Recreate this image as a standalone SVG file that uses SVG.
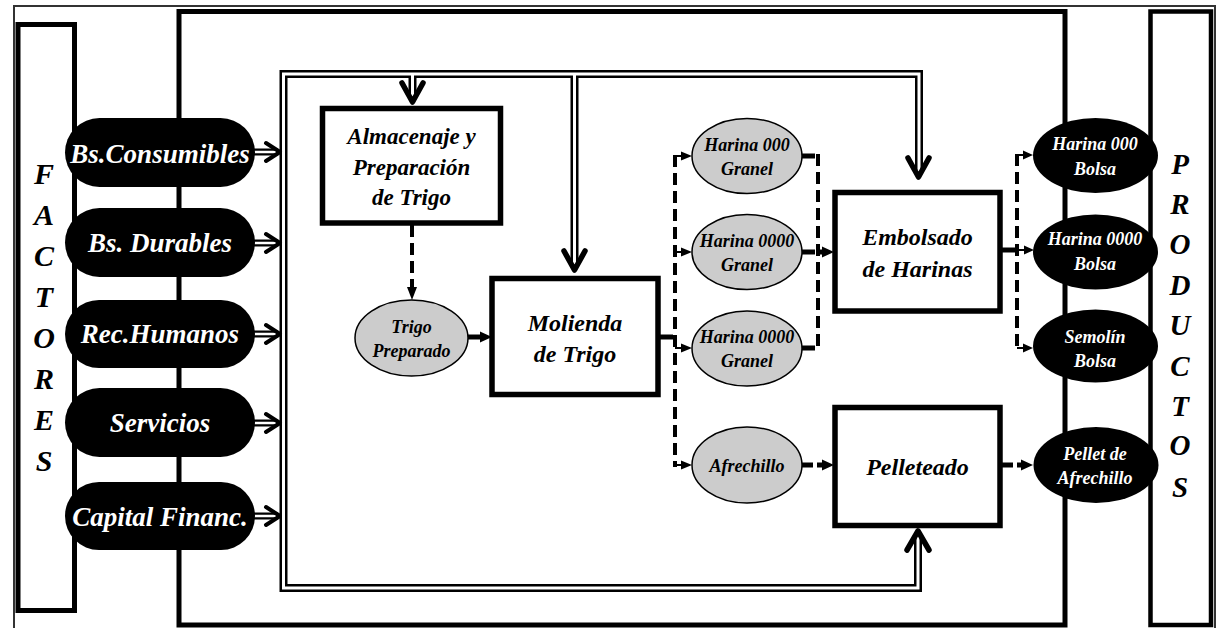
<svg xmlns="http://www.w3.org/2000/svg" width="1221" height="628" viewBox="0 0 1221 628">
<defs>
<style>
.t{font-family:"Liberation Serif","Times New Roman",serif;font-weight:bold;font-style:italic;text-anchor:middle}
.cap{fill:#000}
.capt{fill:#fff;font-size:27px}
.box{fill:#fff;stroke:#000;stroke-width:5.5}
.boxt{font-size:24px;fill:#000}
.gell{fill:#cccccc;stroke:#000;stroke-width:1.5}
.gt{font-size:18px;fill:#000}
.bell{fill:#000}
.bt{font-size:18px;fill:#fff}
.big{font-size:30px;fill:#000}
.dblo{fill:none;stroke:#000;stroke-width:8}
.dbli{fill:none;stroke:#fff;stroke-width:3}
.shafto{fill:none;stroke:#000;stroke-width:7}
.shafti{fill:none;stroke:#fff;stroke-width:2.5}
.chev{fill:none;stroke:#000;stroke-width:4;stroke-linecap:round;stroke-linejoin:round}
.chevb{fill:none;stroke:#000;stroke-width:5.5;stroke-linecap:round;stroke-linejoin:round}
.dash{fill:none;stroke:#000;stroke-width:4;stroke-dasharray:12 6}
.solid{fill:none;stroke:#000;stroke-width:5}
.thin{fill:none;stroke:#000;stroke-width:2}
.tri{fill:#000}
</style>
</defs>
<rect width="1221" height="628" fill="#fff"/>

<g id="frames">
<rect x="14" y="6" width="1201" height="640" fill="none" stroke="#333" stroke-width="2"/>
<rect x="18" y="24.5" width="56.5" height="586" fill="none" stroke="#000" stroke-width="5"/>
<rect x="179" y="11.5" width="886" height="613.5" fill="none" stroke="#000" stroke-width="5"/>
<rect x="1150.5" y="11.5" width="60.5" height="613.5" fill="none" stroke="#000" stroke-width="4.5"/>
</g>

<g id="label-factores" class="t big">
<text x="44" y="184">F</text>
<text x="44" y="225">A</text>
<text x="44" y="266">C</text>
<text x="44" y="307">T</text>
<text x="44" y="348">O</text>
<text x="44" y="389">R</text>
<text x="44" y="430">E</text>
<text x="44" y="471">S</text>
</g>

<g id="label-productos" class="t big" style="font-size:29px">
<text x="1180" y="174">P</text>
<text x="1180" y="214">R</text>
<text x="1180" y="254">O</text>
<text x="1180" y="295">D</text>
<text x="1180" y="335">U</text>
<text x="1180" y="376">C</text>
<text x="1180" y="416">T</text>
<text x="1180" y="455">O</text>
<text x="1180" y="497">S</text>
</g>

<g id="connectors">
<!-- double-line supply frame -->
<path class="dblo" d="M919,170 V74 H283.5 V588 H918 V537"/>
<path class="dblo" d="M412.5,74 V96"/>
<path class="dblo" d="M574.5,74 V262"/>
<path class="dbli" d="M919,170 V74 H283.5 V588 H918 V537"/>
<path class="dbli" d="M412.5,74 V96"/>
<path class="dbli" d="M574.5,74 V262"/>
<path class="chevb" d="M402,83 L412.5,102 L423,83"/>
<path class="chevb" d="M564,251 L574.5,270 L585,251"/>
<path class="chevb" d="M908,158 L918.5,177 L929,158"/>
<path class="chevb" d="M907,550 L918,531 L929,550"/>

<!-- factor arrows -->
<path class="shafto" d="M250,152 H278 M250,243 H278 M250,334 H278 M250,423 H278 M250,516 H278"/>
<path class="shafti" d="M250,152 H276 M250,243 H276 M250,334 H276 M250,423 H276 M250,516 H276"/>
<path class="chev" d="M266,143 L280,152 L266,161 M266,234 L280,243 L266,252 M266,325 L280,334 L266,343 M266,414 L280,423 L266,432 M266,507 L280,516 L266,525"/>

<!-- Almacenaje -> Trigo Preparado -->
<path class="dash" d="M412,225 V288"/>
<polygon class="tri" points="407,287 417,287 412,300"/>
<!-- Trigo Preparado -> Molienda -->
<path class="solid" d="M467,337 H481"/>
<polygon class="tri" points="480,331.5 480,342.5 492,337"/>
<!-- Molienda -> granel -->
<path class="solid" d="M658,337 H673"/>
<path class="dash" d="M675,155 V467"/>
<path class="thin" d="M675,156 H683 M675,252 H683 M675,348 H683 M675,465 H683"/>
<polygon class="tri" points="681,151.5 681,160.5 692,156"/>
<polygon class="tri" points="681,247.5 681,256.5 692,252"/>
<polygon class="tri" points="681,343.5 681,352.5 692,348"/>
<polygon class="tri" points="681,460.5 681,469.5 692,465"/>
<!-- granel -> Embolsado -->
<path class="solid" d="M801,156 H815 M801,252 H815 M801,348 H815"/>
<path class="dash" d="M818,154 V350"/>
<path class="solid" d="M820,252 H824"/>
<polygon class="tri" points="822,246.5 822,257.5 834,252"/>
<!-- Afrechillo -> Pelleteado -->
<path class="solid" d="M802,465 H823" style="stroke-dasharray:11 4"/>
<polygon class="tri" points="822,459.5 822,470.5 834,465"/>
<!-- Embolsado -> bolsas -->
<path class="solid" d="M1000,250 H1015"/>
<path class="dash" d="M1017,154 V350"/>
<path class="thin" d="M1017,155 H1025 M1017,250 H1026 M1017,348 H1025"/>
<polygon class="tri" points="1023,150.5 1023,159.5 1033,155"/>
<polygon class="tri" points="1024,245.5 1024,254.5 1034,250"/>
<polygon class="tri" points="1023,343.5 1023,352.5 1033,348"/>
<!-- Pelleteado -> Pellet -->
<path class="solid" d="M1000,465 H1022" style="stroke-dasharray:13 4"/>
<polygon class="tri" points="1021,459.5 1021,470.5 1033,465"/>
</g>

<g id="n-consumibles"><rect class="cap" x="65" y="118" width="190" height="69" rx="34.5"/><text class="t capt" x="160" y="163">Bs.Consumibles</text></g>
<g id="n-durables"><rect class="cap" x="65" y="208" width="190" height="69" rx="34.5"/><text class="t capt" x="160" y="252">Bs. Durables</text></g>
<g id="n-humanos"><rect class="cap" x="65" y="300" width="190" height="68" rx="34"/><text class="t capt" x="160" y="343">Rec.Humanos</text></g>
<g id="n-servicios"><rect class="cap" x="65" y="388" width="190" height="69" rx="34.5"/><text class="t capt" x="160" y="432">Servicios</text></g>
<g id="n-capital"><rect class="cap" x="65" y="482" width="190" height="68" rx="34"/><text class="t capt" x="160" y="526">Capital Financ.</text></g>

<g id="n-almacenaje"><rect class="box" x="322.5" y="108.5" width="178" height="114.5"/>
<text class="t boxt" style="font-size:23px" x="411.5" y="144">Almacenaje y</text>
<text class="t boxt" style="font-size:23px" x="411.5" y="175">Preparación</text>
<text class="t boxt" style="font-size:23px" x="411.5" y="205">de Trigo</text></g>

<g id="n-trigo"><ellipse class="gell" cx="411.5" cy="338" rx="56.5" ry="38"/>
<text class="t gt" x="411.5" y="333">Trigo</text><text class="t gt" x="411.5" y="357">Preparado</text></g>

<g id="n-molienda"><rect class="box" x="492" y="278.5" width="166" height="116"/>
<text class="t boxt" x="575" y="331">Molienda</text><text class="t boxt" x="575" y="362">de Trigo</text></g>

<g id="n-h000g"><ellipse class="gell" cx="747" cy="156" rx="55" ry="37.5"/>
<text class="t gt" x="747" y="151">Harina 000</text><text class="t gt" x="747" y="175">Granel</text></g>
<g id="n-h0000g1"><ellipse class="gell" cx="747" cy="252" rx="55" ry="37.5"/>
<text class="t gt" x="747" y="247">Harina 0000</text><text class="t gt" x="747" y="271">Granel</text></g>
<g id="n-h0000g2"><ellipse class="gell" cx="747" cy="348.5" rx="55" ry="37.5"/>
<text class="t gt" x="747" y="343">Harina 0000</text><text class="t gt" x="747" y="367">Granel</text></g>
<g id="n-afrechillo"><ellipse class="gell" cx="747" cy="465" rx="55" ry="38"/>
<text class="t gt" x="747" y="472">Afrechillo</text></g>

<g id="n-embolsado"><rect class="box" x="835" y="192.5" width="165" height="118.5"/>
<text class="t boxt" x="917.5" y="245">Embolsado</text><text class="t boxt" x="917.5" y="277">de Harinas</text></g>
<g id="n-pelleteado"><rect class="box" x="835" y="407.5" width="165" height="118"/>
<text class="t boxt" x="917.5" y="475">Pelleteado</text></g>

<g id="n-h000b"><ellipse class="bell" cx="1095.5" cy="155.5" rx="62.5" ry="37.5"/>
<text class="t bt" x="1095" y="150">Harina 000</text><text class="t bt" x="1095" y="175">Bolsa</text></g>
<g id="n-h0000b"><ellipse class="bell" cx="1095.5" cy="252" rx="62.5" ry="37.5"/>
<text class="t bt" x="1095" y="245">Harina 0000</text><text class="t bt" x="1095" y="270">Bolsa</text></g>
<g id="n-semolin"><ellipse class="bell" cx="1095.5" cy="346" rx="62.5" ry="36.5"/>
<text class="t bt" x="1095" y="343">Semolín</text><text class="t bt" x="1095" y="367">Bolsa</text></g>
<g id="n-pellet"><ellipse class="bell" cx="1096" cy="465" rx="62.5" ry="38"/>
<text class="t bt" x="1095" y="460">Pellet de</text><text class="t bt" x="1095" y="484">Afrechillo</text></g>
</svg>
